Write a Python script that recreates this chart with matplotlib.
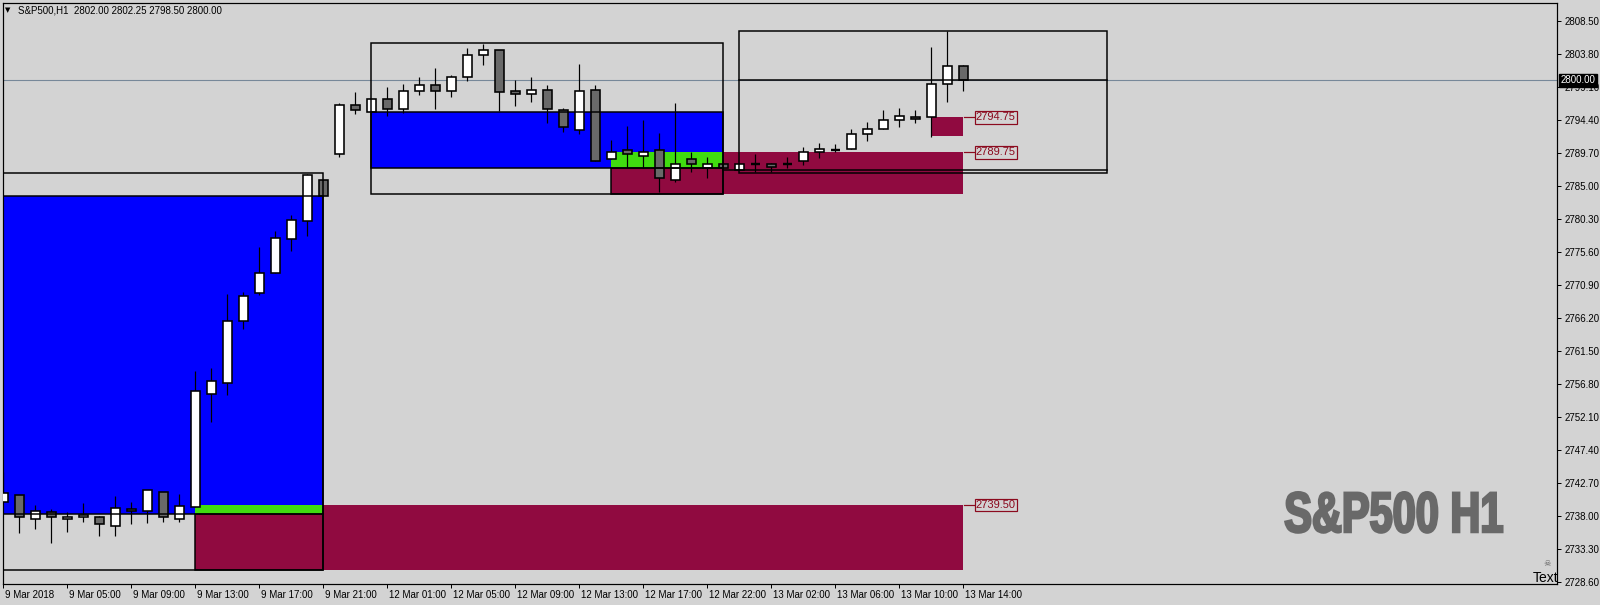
import matplotlib
matplotlib.use("Agg")
import matplotlib.pyplot as plt
from matplotlib.patches import Rectangle
from matplotlib import font_manager as fm
import matplotlib.transforms as mtransforms
from matplotlib.patheffects import AbstractPathEffect

# ---------------- data ----------------
symbol = "S&P500"
timeframe = "H1"

opens = [2740.0, 2741.0, 2737.5, 2738.5, 2737.5, 2737.75, 2737.75, 2736.5, 2739.0, 2738.7,
         2741.4, 2737.5, 2739.2, 2755.4, 2756.95, 2765.7, 2769.75, 2772.5, 2777.45, 2780.0,
         2785.75, 2789.45, 2796.45, 2795.45, 2797.3, 2795.95, 2798.45, 2799.3, 2798.45, 2800.45,
         2803.55, 2804.3, 2798.45, 2798.0, 2798.7, 2795.75, 2793.0, 2798.7, 2788.75, 2790.05,
         2789.2, 2790.05, 2785.75, 2788.75, 2787.5, 2788.15, 2787.2, 2788.1, 2788.05, 2788.15,
         2788.45, 2789.75, 2790.15, 2790.2, 2792.3, 2793.05, 2794.3, 2794.75, 2794.75, 2799.45,
         2802.0]
highs = [2744.25, 2741.0, 2739.5, 2739.0, 2738.5, 2739.75, 2738.0, 2740.8, 2740.0, 2741.7,
         2741.4, 2741.1, 2758.55, 2759.0, 2769.55, 2769.85, 2776.25, 2778.55, 2780.8, 2786.65,
         2785.75, 2796.75, 2798.35, 2797.3, 2799.05, 2799.5, 2800.5, 2801.75, 2800.75, 2804.6,
         2805.2, 2804.3, 2800.05, 2800.5, 2799.3, 2796.0, 2802.35, 2799.3, 2791.45, 2793.45,
         2794.35, 2792.45, 2796.8, 2789.8, 2789.1, 2788.2, 2788.15, 2789.45, 2788.3, 2789.1,
         2790.5, 2791.1, 2790.9, 2793.05, 2794.05, 2795.8, 2796.0, 2795.8, 2804.7, 2807.0,
         2802.25]
lows = [2740.0, 2735.5, 2736.15, 2734.05, 2735.7, 2737.15, 2735.1, 2735.1, 2736.75, 2737.0,
        2737.15, 2737.15, 2739.2, 2751.4, 2755.2, 2764.6, 2769.45, 2772.5, 2775.75, 2777.85,
        2783.5, 2789.15, 2795.2, 2795.45, 2794.95, 2795.35, 2797.95, 2795.95, 2797.7, 2799.95,
        2802.25, 2795.7, 2796.4, 2796.95, 2793.95, 2792.7, 2792.4, 2788.45, 2788.75, 2787.5,
        2787.5, 2784.15, 2785.5, 2787.0, 2786.15, 2787.45, 2787.2, 2787.0, 2787.0, 2787.45,
        2788.0, 2789.0, 2789.75, 2790.2, 2791.4, 2793.05, 2793.4, 2793.95, 2792.0, 2796.95,
        2798.5]
closes = [2741.2, 2737.75, 2738.7, 2737.75, 2737.75, 2738.15, 2736.75, 2739.15, 2738.7, 2741.7,
          2737.75, 2739.4, 2755.7, 2757.25, 2765.7, 2769.25, 2772.5, 2777.5, 2780.05, 2786.5,
          2783.55, 2796.45, 2795.75, 2797.3, 2795.95, 2798.45, 2799.3, 2798.45, 2800.45, 2803.55,
          2804.3, 2798.3, 2798.0, 2798.7, 2795.95, 2793.3, 2798.45, 2788.45, 2789.75, 2789.45,
          2789.75, 2786.05, 2788.05, 2788.05, 2788.15, 2787.5, 2788.15, 2788.1, 2787.7, 2788.15,
          2789.75, 2790.2, 2790.15, 2792.3, 2793.05, 2794.35, 2794.95, 2794.45, 2799.45, 2802.0,
          2800.0]

time_tick_bars = [0, 4, 8, 12, 16, 20, 24, 28, 32, 36, 40, 44, 48, 52, 56, 60]
time_tick_labels = ["9 Mar 2018", "9 Mar 05:00", "9 Mar 09:00", "9 Mar 13:00", "9 Mar 17:00",
                    "9 Mar 21:00", "12 Mar 01:00", "12 Mar 05:00", "12 Mar 09:00", "12 Mar 13:00",
                    "12 Mar 17:00", "12 Mar 22:00", "13 Mar 02:00", "13 Mar 06:00", "13 Mar 10:00",
                    "13 Mar 14:00"]
price_ticks = [2728.60, 2733.30, 2738.00, 2742.70, 2747.40, 2752.10, 2756.80, 2761.50, 2766.20,
               2770.90, 2775.60, 2780.30, 2785.00, 2789.70, 2794.40, 2799.10, 2803.80, 2808.50]

current_price = 2800.00

# zones (bar start, bar end, price low, price high)
blue_zones = [(-1.0, 20.0, 2738.2, 2783.5), (23.0, 45.0, 2787.5, 2795.45)]
green_zones = [(12.0, 20.0, 2738.2, 2739.5), (38.0, 45.0, 2787.5, 2789.75)]
maroon_zones = [(12.0, 60.0, 2730.25, 2739.5), (38.0, 60.0, 2783.75, 2789.75), (58.0, 60.0, 2792.1, 2794.75)]
maroon_boxed = [(12.0, 20.0, 2730.25, 2738.2), (38.0, 45.0, 2783.75, 2787.5)]
outer_boxes = [(-1.0, 20.0, 2730.25, 2786.75), (23.0, 45.0, 2783.75, 2805.3), (46.0, 69.0, 2786.75, 2807.0)]
box_lines = [(46.0, 69.0, 2800.0), (45.0, 69.0, 2787.2)]
level_labels = [2794.75, 2789.75, 2739.50]

# ---------------- fonts ----------------
def has_font(name):
    try:
        fm.findfont(fm.FontProperties(family=name), fallback_to_default=False)
        return True
    except Exception:
        return False

base_font = "Liberation Sans" if has_font("Liberation Sans") else "DejaVu Sans"
plt.rcParams["font.family"] = [base_font, "DejaVu Sans"]


class HSqueeze(AbstractPathEffect):
    """Horizontally condense a text around a centre x (display px) and thicken it."""
    def __init__(self, sx, cx, lw, color):
        super().__init__()
        self.sx, self.cx, self.lw, self.color = sx, cx, lw, color

    def draw_path(self, renderer, gc, tpath, affine, rgbFace=None):
        a = affine + mtransforms.Affine2D().translate(-self.cx, 0).scale(self.sx, 1).translate(self.cx, 0)
        gc0 = renderer.new_gc()
        gc0.copy_properties(gc)
        gc0.set_linewidth(self.lw)
        gc0.set_foreground(self.color)
        gc0.set_joinstyle("miter")
        renderer.draw_path(gc0, tpath, a, rgbFace)
        gc0.restore()


BG = "#D3D3D3"
BLUE = "#0000FF"
GREEN = "#40DC10"
MAROON = "#900A40"
LABEL_RED = "#8B0A1E"
BEAR = "#696969"
PX = 0.72  # one pixel in points at dpi 100

W, H = 1600, 605
fig = plt.figure(figsize=(W / 100, H / 100), dpi=100, facecolor=BG)
left, right, top, bottom = 2.7, 1557.0, 3.0, 584.0
ax = fig.add_axes([left / W, (H - bottom) / H, (right - left) / W, (bottom - top) / H])
ax.set_facecolor(BG)
ax.set_xlim(-0.0375, 97.1)
ax.set_ylim(2728.27, 2811.02)

# fills
for x0, x1, y0, y1 in maroon_zones:
    ax.add_patch(Rectangle((x0, y0), x1 - x0, y1 - y0, facecolor=MAROON, edgecolor="none", zorder=1))
for x0, x1, y0, y1 in blue_zones:
    ax.add_patch(Rectangle((x0, y0), x1 - x0, y1 - y0, facecolor=BLUE, edgecolor="none", zorder=1))
for x0, x1, y0, y1 in green_zones:
    ax.add_patch(Rectangle((x0, y0), x1 - x0, y1 - y0, facecolor=GREEN, edgecolor="none", zorder=1))

# price line
ax.axhline(current_price, color="#778899", lw=1.1 * PX, zorder=2)

# candles
bw = 0.6
for i, (o, h, l, c) in enumerate(zip(opens, highs, lows, closes)):
    ax.plot([i, i], [l, h], color="black", lw=1.2 * PX, zorder=3, solid_capstyle="butt")
    lo, hi = min(o, c), max(o, c)
    fc = "white" if c > o else BEAR
    if abs(c - o) < 1e-9:
        ax.plot([i - bw / 2, i + bw / 2], [o, o], color="black", lw=2.4 * PX, zorder=4, solid_capstyle="butt")
    else:
        ax.add_patch(Rectangle((i - bw / 2, lo), bw, hi - lo, facecolor=fc, edgecolor="black",
                               lw=1.6 * PX, zorder=4))

# borders drawn over candles
for x0, x1, y0, y1 in blue_zones + maroon_boxed + outer_boxes:
    ax.add_patch(Rectangle((x0, y0), x1 - x0, y1 - y0, facecolor="none", edgecolor="black",
                           lw=1.5 * PX, zorder=5))
for x0, x1, y in box_lines:
    ax.plot([x0, x1], [y, y], color="black", lw=1.5 * PX, zorder=5)

# level labels
last = len(closes) - 1
for lvl in level_labels:
    ax.plot([last + 0.05, last + 0.7], [lvl, lvl], color=LABEL_RED, lw=1.2 * PX, zorder=6)
    ax.text(last + 0.78, lvl, f"{lvl:.2f}", ha="left", va="center", fontsize=8, color=LABEL_RED,
            zorder=7, bbox=dict(boxstyle="square,pad=0.12", fc=BG, ec=LABEL_RED, lw=1.2 * PX))

# axes styling
for sp in ax.spines.values():
    sp.set_color("black")
    sp.set_linewidth(1.2 * PX)

ax.yaxis.tick_right()
ax.set_yticks(price_ticks)
ax.set_yticklabels([f"{p:.2f}" for p in price_ticks])
ax.tick_params(axis="y", direction="out", length=3, width=PX, pad=2.5, labelsize=7, colors="black")

ax.set_xticks(time_tick_bars)
ax.set_xticklabels(time_tick_labels)
ax.tick_params(axis="x", direction="out", length=3, width=PX, pad=1.5, labelsize=7, colors="black")
offset = mtransforms.ScaledTranslation(1.5 / 72, 0, fig.dpi_scale_trans)
for lab in ax.get_xticklabels():
    lab.set_horizontalalignment("left")
    lab.set_transform(lab.get_transform() + offset)

# current price tag on the axis
trans = mtransforms.blended_transform_factory(ax.transAxes, ax.transData)
ax.text(1.0 + 3.5 / (right - left), current_price, f"{current_price:.2f}", transform=trans,
        ha="left", va="center", fontsize=7, color="white", zorder=20, clip_on=False,
        bbox=dict(boxstyle="square,pad=0.15", fc="black", ec="black"))

# header
fig.text(5 / W, 1 - 10.5 / H, "\u25BC", fontsize=5, va="center", ha="left", family="DejaVu Sans")
o, h, l, c = opens[-1], highs[-1], lows[-1], closes[-1]
fig.text(18 / W, 1 - 10.5 / H, f"{symbol},{timeframe}  {o:.2f} {h:.2f} {l:.2f} {c:.2f}",
         fontsize=7, va="center", ha="left")

# watermark (condensed heavy look)
wm_cx, wm_width, wm_stroke_px = 1394.0, 222.0, 2.5
wm = fig.text(wm_cx / W, 1 - 532.0 / H, f"{symbol} {timeframe}", ha="center", va="baseline",
              fontsize=41, fontweight="bold", color="#696969")
rend = fig.canvas.get_renderer()
raw_w = wm.get_window_extent(renderer=rend).width
sx = (wm_width - wm_stroke_px) / raw_w
wm.set_path_effects([HSqueeze(sx, wm_cx, wm_stroke_px * PX, "#696969")])

# small "Text" object
fig.text(1558 / W, 1 - 581.5 / H, "Text", ha="right", va="baseline", fontsize=10, color="black")
fig.text(1547 / W, 1 - 568 / H, "\u2620", ha="center", va="bottom", fontsize=6, color="#606060",
         family="DejaVu Sans")

fig.savefig("out.png", dpi=100, facecolor=BG)
